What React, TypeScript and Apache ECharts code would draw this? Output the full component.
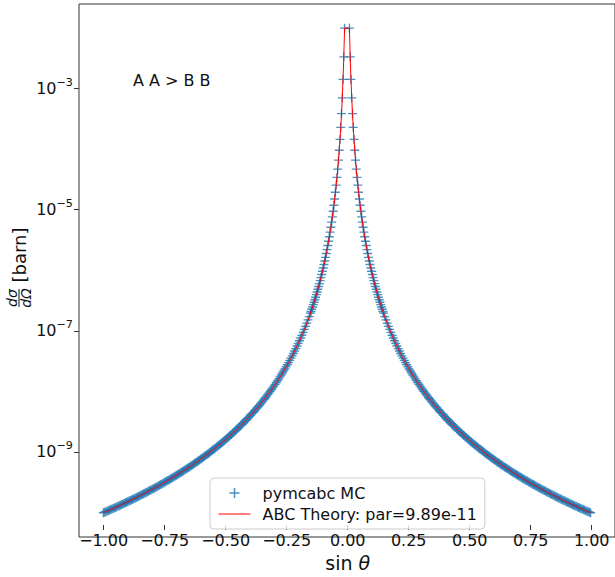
import React, { useEffect, useRef } from 'react';
import * as echarts from 'echarts';

const FONT = 'DejaVu Sans';

// |sin θ| values of the MC points / theory curve (the plot is mirror-symmetric about 0)
const sinThetaPos = [
  0.0100, 0.01313, 0.01626, 0.01939, 0.02252, 0.02565, 0.02878, 0.03191, 0.03504, 0.03817,
  0.04130, 0.04443, 0.04756, 0.05069, 0.05382, 0.05695, 0.06008, 0.06321, 0.06634, 0.06947,
  0.07260, 0.07573, 0.07886, 0.08199, 0.08512, 0.08825, 0.09138, 0.09451, 0.09764, 0.10077,
  0.10390, 0.10703, 0.11016, 0.11329, 0.11642, 0.11955, 0.12268, 0.12581, 0.12894, 0.13207,
  0.13520, 0.13833, 0.14146, 0.14459, 0.14772,
  0.150, 0.155, 0.160, 0.165, 0.170, 0.175, 0.180, 0.185, 0.190, 0.195,
  0.200, 0.205, 0.210, 0.215, 0.220, 0.225, 0.230, 0.235, 0.240, 0.245,
  0.250, 0.255, 0.260, 0.265, 0.270, 0.275, 0.280, 0.285, 0.290, 0.295,
  0.300, 0.305, 0.310, 0.315, 0.320, 0.325, 0.330, 0.335, 0.340, 0.345,
  0.350, 0.355, 0.360, 0.365, 0.370, 0.375, 0.380, 0.385, 0.390, 0.395,
  0.400, 0.405, 0.410, 0.415, 0.420, 0.425, 0.430, 0.435, 0.440, 0.445,
  0.450, 0.455, 0.460, 0.465, 0.470, 0.475, 0.480, 0.485, 0.490, 0.495,
  0.500, 0.505, 0.510, 0.515, 0.520, 0.525, 0.530, 0.535, 0.540, 0.545,
  0.550, 0.555, 0.560, 0.565, 0.570, 0.575, 0.580, 0.585, 0.590, 0.595,
  0.600, 0.605, 0.610, 0.615, 0.620, 0.625, 0.630, 0.635, 0.640, 0.645,
  0.650, 0.655, 0.660, 0.665, 0.670, 0.675, 0.680, 0.685, 0.690, 0.695,
  0.700, 0.705, 0.710, 0.715, 0.720, 0.725, 0.730, 0.735, 0.740, 0.745,
  0.750, 0.755, 0.760, 0.765, 0.770, 0.775, 0.780, 0.785, 0.790, 0.795,
  0.800, 0.805, 0.810, 0.815, 0.820, 0.825, 0.830, 0.835, 0.840, 0.845,
  0.850, 0.855, 0.860, 0.865, 0.870, 0.875, 0.880, 0.885, 0.890, 0.895,
  0.900, 0.905, 0.910, 0.915, 0.920, 0.925, 0.930, 0.935, 0.940, 0.945,
  0.950, 0.955, 0.960, 0.965, 0.970, 0.975, 0.980, 0.985, 0.990, 0.995,
  1.000,
];

// dσ/dΩ [barn] at those points
const xsecPos = [
  9.89e-3, 3.33e-3, 1.415e-3, 7.00e-4, 3.845e-4, 2.285e-4, 1.441e-4, 9.54e-5, 6.56e-5, 4.66e-5,
  3.40e-5, 2.538e-5, 1.933e-5, 1.498e-5, 1.179e-5, 9.40e-6, 7.59e-6, 6.20e-6, 5.11e-6, 4.25e-6,
  3.56e-6, 3.007e-6, 2.557e-6, 2.188e-6, 1.884e-6, 1.631e-6, 1.418e-6, 1.240e-6, 1.088e-6, 9.59e-7,
  8.49e-7, 7.54e-7, 6.72e-7, 6.00e-7, 5.38e-7, 4.84e-7, 4.37e-7, 3.95e-7, 3.58e-7, 3.25e-7,
  2.96e-7, 2.70e-7, 2.470e-7, 2.263e-7, 2.077e-7,
  1.954e-7, 1.713e-7, 1.509e-7, 1.334e-7, 1.184e-7, 1.0545e-7, 9.42e-8, 8.44e-8, 7.59e-8, 6.84e-8,
  6.18e-8, 5.60e-8, 5.085e-8, 4.63e-8, 4.22e-8, 3.86e-8, 3.534e-8, 3.243e-8, 2.981e-8, 2.745e-8,
  2.532e-8, 2.339e-8, 2.164e-8, 2.005e-8, 1.861e-8, 1.729e-8, 1.609e-8, 1.499e-8, 1.398e-8, 1.306e-8,
  1.221e-8, 1.143e-8, 1.071e-8, 1.0045e-8, 9.43e-9, 8.865e-9, 8.34e-9, 7.853e-9, 7.40e-9, 6.981e-9,
  6.59e-9, 6.227e-9, 5.89e-9, 5.572e-9, 5.28e-9, 5.001e-9, 4.74e-9, 4.501e-9, 4.28e-9, 4.063e-9,
  3.86e-9, 3.676e-9, 3.50e-9, 3.334e-9, 3.18e-9, 3.031e-9, 2.893e-9, 2.762e-9, 2.639e-9, 2.522e-9,
  2.412e-9, 2.3075e-9, 2.209e-9, 2.1154e-9, 2.027e-9, 1.9428e-9, 1.863e-9, 1.7874e-9, 1.716e-9, 1.6473e-9,
  1.582e-9, 1.5207e-9, 1.462e-9, 1.406e-9, 1.353e-9, 1.3019e-9, 1.253e-9, 1.2072e-9, 1.163e-9, 1.121e-9,
  1.081e-9, 1.0424e-9, 1.006e-9, 9.705e-10, 9.37e-10, 9.047e-10, 8.74e-10, 8.445e-10, 8.16e-10, 7.891e-10,
  7.63e-10, 7.382e-10, 7.14e-10, 6.913e-10, 6.69e-10, 6.482e-10, 6.28e-10, 6.083e-10, 5.89e-10, 5.714e-10,
  5.54e-10, 5.373e-10, 5.21e-10, 5.057e-10, 4.91e-10, 4.764e-10, 4.63e-10, 4.492e-10, 4.36e-10, 4.239e-10,
  4.12e-10, 4.004e-10, 3.89e-10, 3.784e-10, 3.68e-10, 3.58e-10, 3.48e-10, 3.389e-10, 3.30e-10, 3.211e-10,
  3.126e-10, 3.044e-10, 2.964e-10, 2.888e-10, 2.813e-10, 2.742e-10, 2.672e-10, 2.604e-10, 2.539e-10, 2.476e-10,
  2.415e-10, 2.355e-10, 2.298e-10, 2.242e-10, 2.187e-10, 2.135e-10, 2.084e-10, 2.0345e-10, 1.986e-10, 1.9399e-10,
  1.895e-10, 1.8507e-10, 1.808e-10, 1.7666e-10, 1.726e-10, 1.6872e-10, 1.649e-10, 1.6122e-10, 1.576e-10, 1.5414e-10,
  1.507e-10, 1.4744e-10, 1.442e-10, 1.411e-10, 1.381e-10, 1.3509e-10, 1.322e-10, 1.2941e-10, 1.267e-10, 1.2401e-10,
  1.214e-10, 1.189e-10, 1.164e-10, 1.1405e-10, 1.117e-10, 1.0944e-10, 1.072e-10, 1.0506e-10, 1.030e-10, 1.009e-10,
  9.89e-11,
];

const yTickExponents = ['−9', '−7', '−5', '−3'];
const seriesNames = ['pymcabc MC', 'ABC Theory: par=9.89e-11'];
const processText = 'A A > B B';

const PLUS = 'path://M3.4,0H4.6V3.4H8V4.6H4.6V8H3.4V4.6H0V3.4H3.4Z';

export default function App() {
  const ref = useRef<HTMLDivElement>(null);
  useEffect(() => {
    const chart = echarts.init(ref.current!, null, { renderer: 'svg' });
    const pts: number[][] = [];
    for (let i = sinThetaPos.length - 1; i >= 0; i--) pts.push([-sinThetaPos[i], xsecPos[i]]);
    for (let i = 0; i < sinThetaPos.length; i++) pts.push([sinThetaPos[i], xsecPos[i]]);

    const fmtX = (v: number) => (v < 0 ? '−' : '') + Math.abs(v).toFixed(2);

    chart.setOption({
      animation: false,
      backgroundColor: '#ffffff',
      textStyle: { fontFamily: FONT },
      grid: [
        { left: 79, top: 4, width: 537, height: 533, show: true, borderColor: '#333', borderWidth: 1, backgroundColor: 'transparent', containLabel: false },
        { left: 103.7, top: 4, width: 488, height: 533, containLabel: false },
        { left: 79, top: 88.5, width: 537, height: 363.4, containLabel: false },
      ],
      xAxis: [
        { type: 'value', gridIndex: 0, min: -1.1, max: 1.1, show: false, splitLine: { show: false } },
        {
          type: 'value', gridIndex: 1, min: -1, max: 1, interval: 0.25, position: 'bottom',
          axisLine: { show: false },
          axisTick: { show: true, length: 5, lineStyle: { color: '#333', width: 1 } },
          splitLine: { show: false },
          axisLabel: { formatter: fmtX, fontSize: 16, color: '#111', fontFamily: FONT, margin: 7 },
          name: '{n|sin }{t|θ}', nameLocation: 'middle', nameGap: 28,
          nameTextStyle: {
            fontFamily: FONT, color: '#111',
            rich: { n: { fontSize: 19, fontFamily: FONT, color: '#111' }, t: { fontSize: 19, fontStyle: 'italic', fontFamily: FONT, color: '#111' } },
          },
        },
        { type: 'value', gridIndex: 2, min: 0, max: 1, show: false },
      ],
      yAxis: [
        { type: 'log', logBase: 10, gridIndex: 0, min: 3.94e-11, max: 0.0248, show: false, splitLine: { show: false } },
        { type: 'value', gridIndex: 1, min: 0, max: 1, show: false },
        {
          type: 'category', gridIndex: 2, data: yTickExponents, boundaryGap: false,
          axisLine: { show: false },
          axisTick: { show: true, length: 5, lineStyle: { color: '#333', width: 1 } },
          splitLine: { show: false },
          axisLabel: {
            margin: 6,
            formatter: (v: string) => `{b|10}{e|${v}}`,
            rich: {
              b: { fontSize: 16, fontFamily: FONT, color: '#111', lineHeight: 24 },
              e: { fontSize: 11.2, fontFamily: FONT, color: '#111', lineHeight: 12, verticalAlign: 'top' },
            },
          },
        },
      ],
      legend: {
        orient: 'vertical', left: 210, top: 478,
        padding: [7, 8, 7, 8], itemGap: 5, itemWidth: 32, itemHeight: 10,
        borderColor: '#cccccc', borderWidth: 1, borderRadius: 4,
        backgroundColor: 'rgba(255,255,255,0.8)',
        textStyle: { fontFamily: FONT, fontSize: 16, color: '#111', padding: [0, 0, 0, 7] },
        data: [
          { name: seriesNames[0] },
          { name: seriesNames[1], itemStyle: { opacity: 0 }, lineStyle: { width: 1, color: '#ff0000' } },
        ],
      },
      graphic: [
        {
          type: 'text', left: 133, top: 72,
          style: { text: processText, fontFamily: FONT, fontSize: 16, fill: '#111' },
        },
        {
          type: 'group', x: 19, y: 270, rotation: Math.PI / 2,
          children: [
            { type: 'line', shape: { x1: -37, y1: 0, x2: -19, y2: 0 }, style: { stroke: '#111', lineWidth: 1 } },
            { type: 'text', x: -28, y: -7.5, style: { text: 'dσ', fontFamily: FONT, fontSize: 14, fontStyle: 'italic', fill: '#111', align: 'center', verticalAlign: 'middle' } },
            { type: 'text', x: -28, y: 7, style: { text: 'dΩ', fontFamily: FONT, fontSize: 14, fontStyle: 'italic', fill: '#111', align: 'center', verticalAlign: 'middle' } },
            { type: 'text', x: 15, y: 0, style: { text: '[barn]', fontFamily: FONT, fontSize: 18, fill: '#111', align: 'center', verticalAlign: 'middle' } },
          ],
        },
      ],
      series: [
        {
          name: seriesNames[0], type: 'scatter', xAxisIndex: 0, yAxisIndex: 0,
          symbol: PLUS, symbolSize: 9, symbolKeepAspect: true,
          itemStyle: { color: '#1f77b4' },
          data: pts,
        },
        {
          name: seriesNames[1], type: 'line', xAxisIndex: 0, yAxisIndex: 0,
          symbol: 'none', showSymbol: false,
          lineStyle: { color: '#ff0000', width: 1 }, itemStyle: { color: '#ff0000' },
          data: pts,
        },
      ],
    });
    return () => chart.dispose();
  }, []);
  return <div ref={ref} style={{ position: 'fixed', left: 0, top: 0, width: 615, height: 577, background: '#fff' }} />;
}
